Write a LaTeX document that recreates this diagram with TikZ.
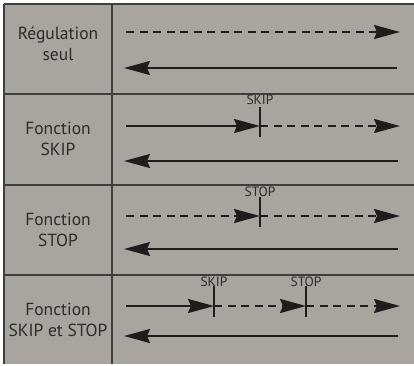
\documentclass[tikz,border=0pt]{standalone}
\usepackage{fontspec}
\setmainfont{PT Sans}
\usetikzlibrary{arrows.meta}
\definecolor{bg}{RGB}{168,164,160}
\definecolor{ink}{RGB}{30,28,28}
\definecolor{txt}{RGB}{45,43,43}
\tikzset{
  sep/.style={draw=ink!85, line width=1.3pt},
  flow/.style={draw=ink, line width=2.2pt, -{Stealth[length=26pt,width=14pt,inset=3pt]}},
  dflow/.style={flow, dash pattern=on 8pt off 5.5pt},
  tick/.style={draw=ink, line width=2.2pt},
  lbl/.style={font=\fontsize{17.5}{21}\selectfont, text=txt, align=center},
  tlbl/.style={font=\fontsize{13.5}{14}\selectfont, text=txt},
}
\begin{document}
\begin{tikzpicture}[x=1pt,y=-1pt]
\useasboundingbox (0,0) rectangle (414,365);
\fill[white] (0,0) rectangle (414,365);
\fill[bg] (4,4) rectangle (414,364);
% frame and grid
\draw[sep] (4,4) -- (414,4);
\draw[sep] (4,4) -- (4,364);
\draw[sep] (112,4) -- (112,364);
\draw[sep] (4,94) -- (414,94);
\draw[sep] (4,185) -- (414,185);
\draw[sep] (4,275) -- (414,275);
% left labels
\node[lbl] (l1) at (58,44) {Régulation\\seul};
\node[lbl] (l2) at (58,139) {Fonction\\SKIP};
\node[lbl] (l3) at (58,230) {Fonction\\STOP};
\node[lbl] (l4) at (58,320) {Fonction\\SKIP et STOP};
% row 1
\coordinate (a1s) at (126,32); \coordinate (a1e) at (400,32);
\coordinate (b1s) at (397,68); \coordinate (b1e) at (124,68);
\draw[dflow] (a1s) -- (a1e);
\draw[flow] (b1s) -- (b1e);
% row 2
\coordinate (a2s) at (126,126); \coordinate (t2) at (260,126); \coordinate (a2e) at (400,126);
\coordinate (b2s) at (398,161); \coordinate (b2e) at (124,161);
\draw[flow] (a2s) -- (t2);
\draw[dflow] (t2) -- (a2e);
\draw[tick] ([yshift=-11pt]t2) -- ([yshift=19pt]t2);
\node[tlbl] (s2) at (260,100) {SKIP};
\draw[flow] (b2s) -- (b2e);
% row 3
\coordinate (a3s) at (126,216); \coordinate (t3) at (260,216); \coordinate (a3e) at (400,216);
\coordinate (b3s) at (398,249); \coordinate (b3e) at (124,249);
\draw[dflow] (a3s) -- (t3);
\draw[dflow] (t3) -- (a3e);
\draw[tick] ([yshift=-11pt]t3) -- ([yshift=19pt]t3);
\node[tlbl] (s3) at (260,192) {STOP};
\draw[flow] (b3s) -- (b3e);
% row 4
\coordinate (a4s) at (126,306); \coordinate (t4a) at (214,306); \coordinate (t4b) at (306,306); \coordinate (a4e) at (400,306);
\coordinate (b4s) at (398,336); \coordinate (b4e) at (124,336);
\draw[flow] (a4s) -- (t4a);
\draw[dflow] (t4a) -- (t4b);
\draw[dflow] (t4b) -- (a4e);
\draw[tick] ([yshift=-11pt]t4a) -- ([yshift=20pt]t4a);
\draw[tick] ([yshift=-11pt]t4b) -- ([yshift=20pt]t4b);
\node[tlbl] (s4a) at (214,282) {SKIP};
\node[tlbl] (s4b) at (306,282) {STOP};
\draw[flow] (b4s) -- (b4e);
\end{tikzpicture}
\end{document}
